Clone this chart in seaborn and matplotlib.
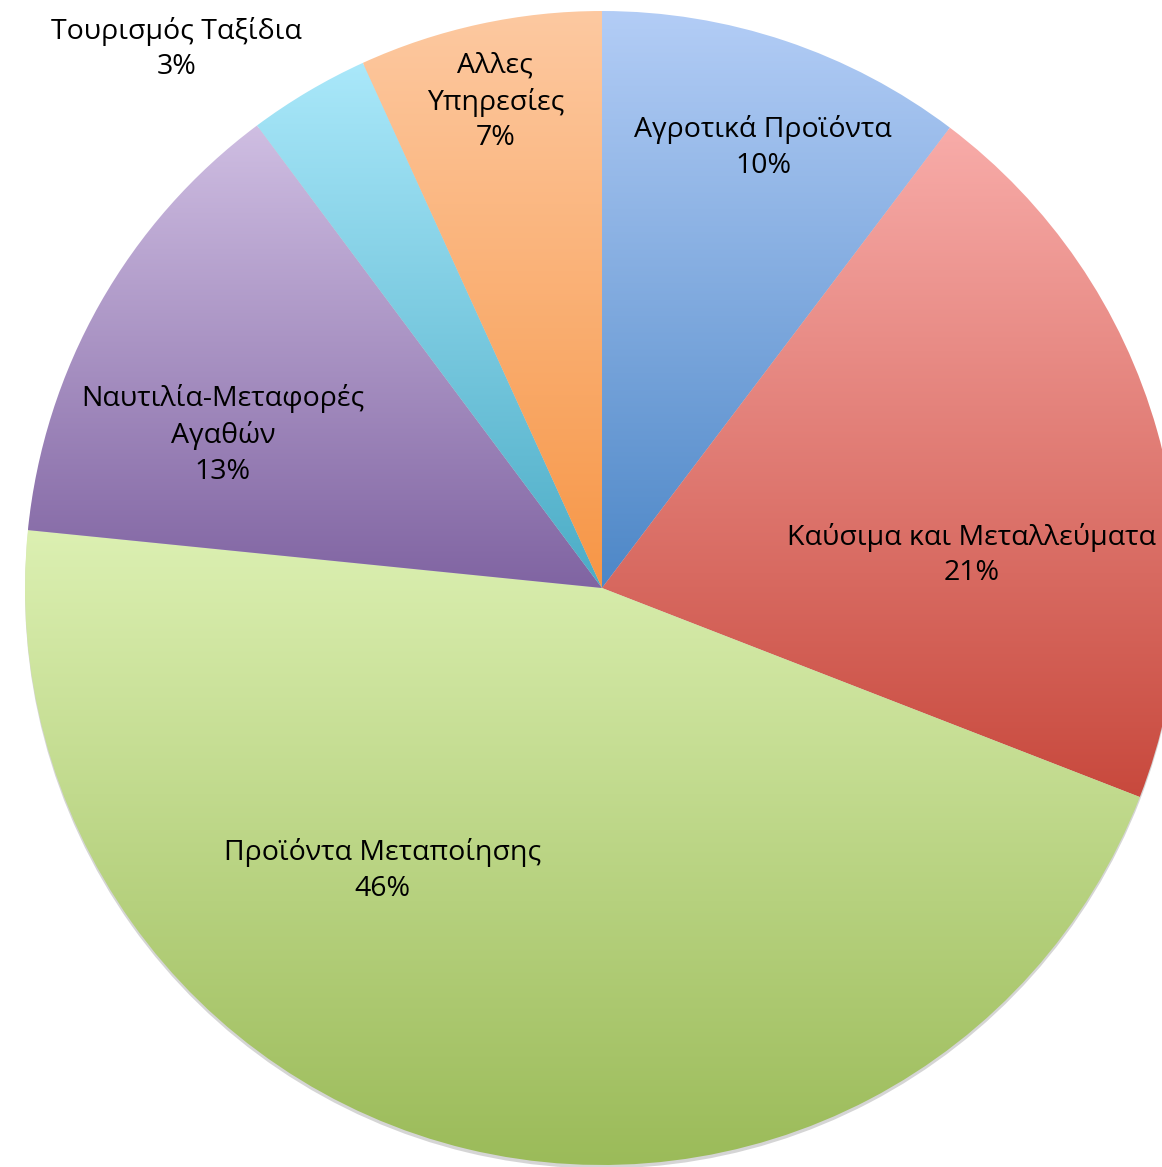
import matplotlib
matplotlib.use("Agg")
import matplotlib.pyplot as plt
import matplotlib.patheffects as pe
import seaborn as sns
import numpy as np

# δεδομένα (μερίδια %)
categories = ["Αγροτικά Προϊόντα", "Καύσιμα και Μεταλλεύματα", "Προϊόντα Μεταποίησης",
              "Ναυτιλία-Μεταφορές\nΑγαθών", "Τουρισμός Ταξίδια", "Αλλες\nΥπηρεσίες"]
shares = [10.3, 20.6, 45.7, 13.2, 3.4, 6.8]

# χρώματα διαβάθμισης (πάνω -> κάτω)
top_colors = ["#b3cdf6", "#f8aca9", "#dcf0b2", "#cfbee2", "#aae8fa", "#fdc9a1"]
bottom_colors = ["#4d87c7", "#c8493d", "#9bbb59", "#8064a2", "#4bacc6", "#f79646"]

# θέσεις ετικετών (σε μονάδες ακτίνας)
label_pos = [(0.279, 0.763), (0.641, 0.057), (-0.380, -0.490),
             (-0.657, 0.265), (-0.737, 0.934), (-0.185, 0.842)]

sns.set_theme(style="white")
plt.rcParams["font.family"] = ["Open Sans", "DejaVu Sans"]

fig = plt.figure(figsize=(11.62, 11.67), dpi=100)
ax = fig.add_axes([0, 0, 1, 1])

wedges, _ = ax.pie(shares, startangle=90, counterclock=False, radius=1,
                   wedgeprops=dict(linewidth=0, facecolor="none"))

for w, c1, c2 in zip(wedges, top_colors, bottom_colors):
    w.set_path_effects([pe.SimplePatchShadow(offset=(0, -2.5), shadow_rgbFace="#888888", alpha=0.35), pe.Normal()])
    ext = w.get_path().get_extents()
    cmap = sns.blend_palette([c2, c1], as_cmap=True)
    grad = np.linspace(0, 1, 256).reshape(-1, 1)
    im = ax.imshow(grad, cmap=cmap, origin="lower", aspect="auto",
                   extent=[ext.x0, ext.x1, ext.y0, ext.y1], zorder=2, interpolation="bilinear")
    im.set_clip_path(w)

for name, v, (x, y) in zip(categories, shares, label_pos):
    ax.text(x, y, f"{name}\n{round(v)}%", ha="center", va="center", fontsize=20.5,
            color="black", linespacing=1.36, zorder=3)

ax.set_xlim(-602 / 577, 560 / 577)
ax.set_ylim(-579 / 577, 588 / 577)
ax.set_aspect("auto")
ax.axis("off")

fig.savefig("out.png", dpi=100, facecolor="white")
